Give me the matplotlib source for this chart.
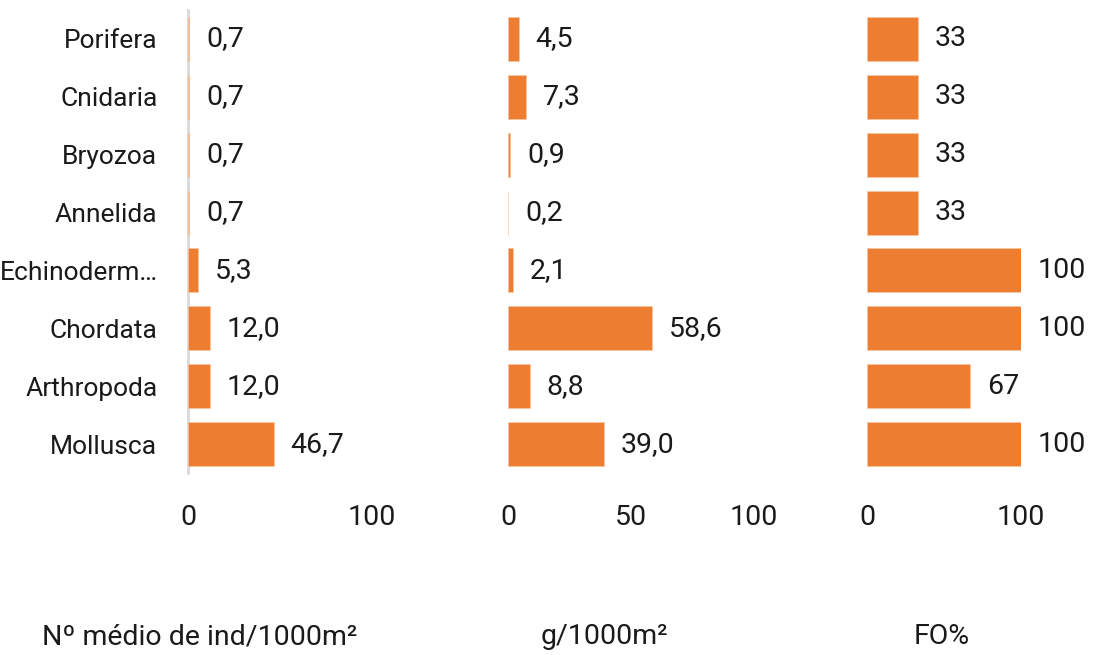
import matplotlib.pyplot as plt

plt.rcParams['font.family'] = ['Roboto', 'DejaVu Sans']

categories = ['Porifera', 'Cnidaria', 'Bryozoa', 'Annelida', 'Echinoderm…',
              'Chordata', 'Arthropoda', 'Mollusca']
ind_vals = [0.7, 0.7, 0.7, 0.7, 5.3, 12.0, 12.0, 46.7]
g_vals = [4.5, 7.3, 0.9, 0.2, 2.1, 58.6, 8.8, 39.0]
fo_vals = [33, 33, 33, 33, 100, 100, 67, 100]

titles = ['Nº médio de ind/1000m²', 'g/1000m²', 'FO%']
ticks = [[0, 100], [0, 50, 100], [0, 100]]
fmts = ['{:.1f}', '{:.1f}', '{:.0f}']

orange = '#ED7D31'
txt = '#1a1a1a'
fs = 20.5

W, H = 1093, 655
fig = plt.figure(figsize=(W / 100, H / 100), dpi=100)

# pixel positions: (left, right) of each panel
spans = [(188, 372), (508, 754), (867, 1021)]
top, bottom = 10, 473

for i, (vals, (l, r)) in enumerate(zip([ind_vals, g_vals, fo_vals], spans)):
    ax = fig.add_axes([l / W, 1 - bottom / H, (r - l) / W, (bottom - top) / H])
    y = range(len(categories))
    ax.barh(y, vals, height=0.76, color=orange, edgecolor='#f6c6a4', linewidth=0.5)
    ax.set_ylim(len(categories) - 0.5, -0.5)
    ax.set_xlim(0, 100)
    for s in ax.spines.values():
        s.set_visible(False)
    ax.set_xticks(ticks[i])
    ax.tick_params(axis='x', length=0, pad=22, labelsize=fs, labelcolor=txt)
    for yy, v in zip(y, vals):
        ax.annotate(fmts[i].format(v).replace('.', ','), (v, yy),
                    xytext=(12, 0), textcoords='offset points',
                    va='center', ha='left', fontsize=fs, color=txt)
    if i == 0:
        ax.set_yticks(list(y))
        ax.set_yticklabels(categories)
        ax.tick_params(axis='y', length=0, pad=22, labelsize=19, labelcolor=txt)
        ax.axvline(0, color='#d9d9d9', linewidth=2, zorder=0, clip_on=False)
    else:
        ax.set_yticks([])

label_x = [200, 604, 942]
for t, x in zip(titles, label_x):
    fig.text(x / W, 1 - 637 / H, t, ha='center', va='center', fontsize=fs, color=txt)

fig.savefig('out.png', dpi=100)
